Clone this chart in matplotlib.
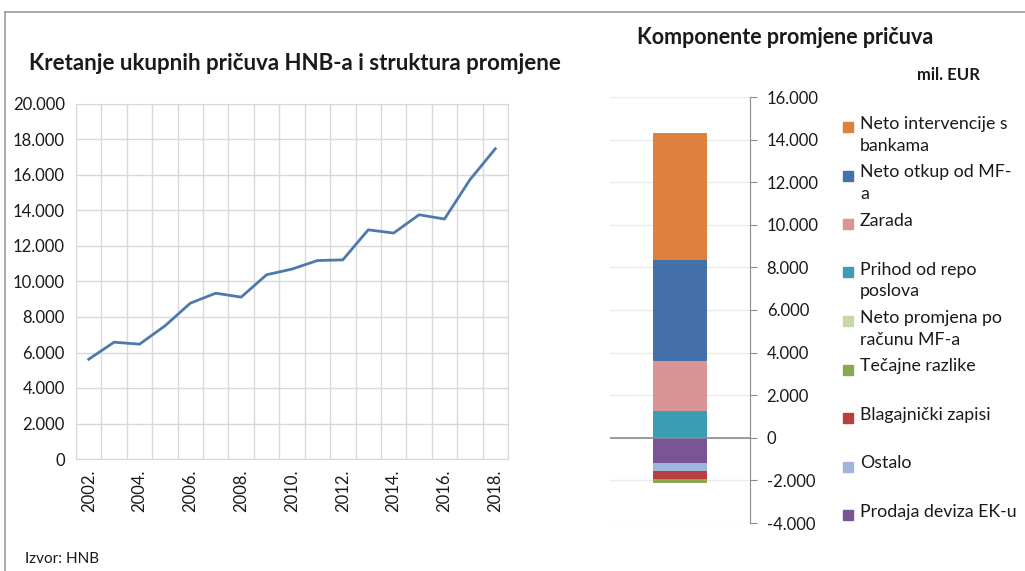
import matplotlib
matplotlib.use('Agg')
import matplotlib.pyplot as plt
from matplotlib.ticker import FuncFormatter, MultipleLocator, FixedLocator
from matplotlib.patches import Rectangle
from matplotlib.lines import Line2D
import numpy as np

plt.rcParams['font.family'] = ['Lato', 'DejaVu Sans']

# --- data -------------------------------------------------------------
years = [2002, 2003, 2004, 2005, 2006, 2007, 2008, 2009, 2010,
         2011, 2012, 2013, 2014, 2015, 2016, 2017, 2018]
reserves = [5620, 6580, 6470, 7500, 8780, 9340, 9120, 10380, 10700,
            11180, 11220, 12910, 12730, 13760, 13520, 15730, 17480]

# components in Excel series order (first series is at the bottom of the legend)
components = ['Prodaja deviza EK-u', 'Ostalo', 'Blagajnički zapisi',
              'Tečajne razlike', 'Neto promjena po\nračunu MF-a',
              'Prihod od repo\nposlova', 'Zarada', 'Neto otkup od MF-\na',
              'Neto intervencije s\nbankama']
component_values = [-1190, -390, -360, -190, 0, 1235, 2380, 4740, 5945]
component_colors = ['#7a5596', '#9fb5dc', '#b8413f', '#8aa84e', '#c5d8a6',
                    '#3b9db3', '#d99596', '#4571ab', '#de813e']

GRID = '#d9d9d9'
TXT = '#1a1a1a'


def fmt(v, pos=None):
    return f'{int(round(v)):,}'.replace(',', '.')


fig = plt.figure(figsize=(10.25, 5.71), dpi=100)

# frame lines (top + left)
fig.add_artist(Line2D([5 / 1025, 1.0], [1 - 12 / 571, 1 - 12 / 571],
                      color='#9a9a9a', lw=1.2, transform=fig.transFigure))
fig.add_artist(Line2D([5 / 1025, 5 / 1025], [0, 1 - 12 / 571],
                      color='#9a9a9a', lw=1.2, transform=fig.transFigure))

# --- left: line chart -------------------------------------------------
ax = fig.add_axes([76 / 1025, 1 - 459 / 571, (508 - 76) / 1025, (459 - 104) / 571])
x = np.arange(len(years))
ax.plot(x, reserves, color='#4e7aab', lw=2.0, solid_joinstyle='round')
ax.set_xlim(-0.5, len(years) - 0.5)
ax.set_ylim(0, 20000)
ax.yaxis.set_major_locator(MultipleLocator(2000))
ax.yaxis.set_major_formatter(FuncFormatter(fmt))
ax.xaxis.set_major_locator(FixedLocator(x[::2]))
ax.set_xticklabels([f'{y}.' for y in years[::2]], rotation=90)
ax.xaxis.set_minor_locator(FixedLocator(np.arange(-0.5, len(years), 1.0)))
ax.grid(True, which='minor', axis='x', color=GRID, lw=1)
ax.grid(True, which='major', axis='y', color=GRID, lw=1)
ax.tick_params(which='both', length=0, labelsize=12, colors=TXT)
ax.tick_params(axis='x', pad=8)
ax.tick_params(axis='y', pad=8)
for s in ax.spines.values():
    s.set_color(GRID)
ax.set_axisbelow(True)

fig.text(295 / 1025, 1 - 63 / 571, 'Kretanje ukupnih pričuva HNB-a i struktura promjene',
         ha='center', va='center', fontsize=16, fontweight='bold', color=TXT)

# --- right: stacked bar -------------------------------------------------
bx = fig.add_axes([610 / 1025, 1 - 523 / 571, (750 - 610) / 1025, (523 - 97) / 571])
pos_base = 0
neg_base = 0
for val, col in zip(component_values, component_colors):
    if val >= 0:
        bx.bar(0, val, bottom=pos_base, width=0.39, color=col, lw=0)
        pos_base += val
    else:
        bx.bar(0, val, bottom=neg_base, width=0.39, color=col, lw=0)
        neg_base += val
bx.set_xlim(-0.5, 0.5)
bx.set_ylim(-4000, 16000)
bx.yaxis.set_major_locator(MultipleLocator(2000))
bx.yaxis.set_major_formatter(FuncFormatter(fmt))
bx.yaxis.tick_right()
bx.grid(True, axis='y', color='#ececec', lw=1)
bx.axhline(0, color='#8c8c8c', lw=1.2)
bx.set_xticks([])
for k in ['top', 'left', 'bottom']:
    bx.spines[k].set_visible(False)
bx.spines['right'].set_color('#8c8c8c')
bx.tick_params(axis='y', direction='out', length=5, color='#8c8c8c',
               labelsize=12, colors=TXT, pad=7)
bx.tick_params(axis='y', colors='#8c8c8c', labelcolor=TXT)
bx.set_axisbelow(True)

fig.text(785 / 1025, 1 - 38 / 571, 'Komponente promjene pričuva',
         ha='center', va='center', fontsize=15.5, fontweight='bold', color=TXT)
fig.text(980 / 1025, 1 - 75 / 571, 'mil. EUR', ha='right', va='center',
         fontsize=12, fontweight='bold', color=TXT)

# legend, drawn by hand to keep Excel's spacing (reverse series order)
y0, step = 127, 48.5
for i, (lab, col) in enumerate(zip(components[::-1], component_colors[::-1])):
    yc = y0 + i * step
    fig.add_artist(Rectangle((843 / 1025, 1 - (yc + 5) / 571), 10 / 1025, 10 / 571,
                             color=col, transform=fig.transFigure))
    fig.text(860 / 1025, 1 - (yc - 11) / 571, lab, ha='left', va='top',
             fontsize=12.8, color=TXT, linespacing=1.45)

fig.text(25 / 1025, 1 - 559 / 571, 'Izvor: HNB', ha='left', va='center',
         fontsize=11, color=TXT)

plt.savefig('out.png', dpi=100)
plt.close()
